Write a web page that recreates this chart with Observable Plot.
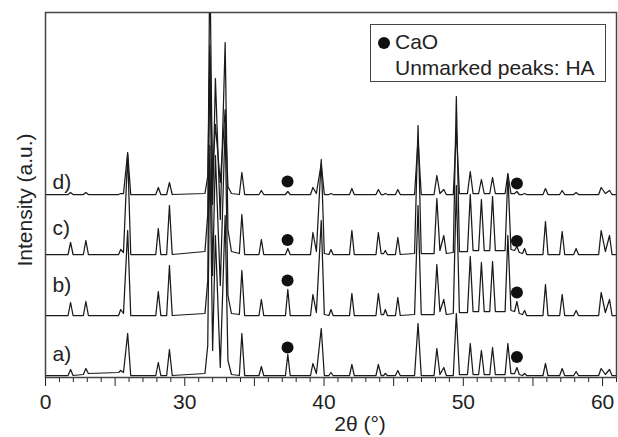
<!DOCTYPE html>
<html><head><meta charset="utf-8">
<script src="https://cdn.jsdelivr.net/npm/d3@7"></script>
<script src="https://cdn.jsdelivr.net/npm/@observablehq/plot@0.6"></script>
<style>
body{margin:0;background:#fff;font-family:"Liberation Sans",Arial,sans-serif;}
#wrap{position:relative;width:618px;height:437px;}
#legend{position:absolute;left:370px;top:24px;width:234px;height:56px;border:1.5px solid #444;background:#fff;color:#222;font-size:21px;line-height:26px;}
#legend .row{position:absolute;left:24px;white-space:nowrap;}
#legend .dot{position:absolute;left:7px;top:12px;width:12px;height:12px;border-radius:50%;background:#111;}
</style>
</head><body><div id="wrap"></div>
<script>
// 2θ positions of the line vertices (degrees): peak feet, apexes and valleys
const twoTheta = [20.0,
 21.62,21.8,21.98, 22.72,22.9,23.08,
 25.25,25.4,25.6,25.9,26.12,
 27.92,28.1,28.28, 28.7,28.9,29.1,
 31.45,31.65,31.8,32.0,32.2,32.55,32.9,33.1,33.35,
 33.92,34.1,34.3, 35.33,35.5,35.67, 37.23,37.4,37.57,
 39.03,39.2,39.45,39.8,40.02, 40.35,40.5,40.65,
 41.83,42.0,42.17, 43.73,43.9,44.1, 44.28,44.4,44.55, 45.13,45.3,45.47,
 46.5,46.75,46.98, 47.9,48.1,48.32,48.6,48.78,
 49.28,49.5,49.72, 50.3,50.5,50.7, 51.1,51.3,51.5, 51.9,52.1,52.3, 53.0,53.2,53.42,
 53.68,53.85,54.02, 54.25,54.4,54.55,
 55.72,55.9,56.08, 56.92,57.1,57.28, 57.93,58.1,58.27,
 59.72,59.9,60.2,60.5,60.68, 61.0];
// intensities above each pattern's own baseline (a.u.)
const traceA = [0, 0,6,0, 1,7,2, 3,5,3,42,0, 0,13,0, 0,26,0,
 2,30,230,25,140,8,160,15,1, 0,42,0, 0,9,0, 0,21,0,
 0,12,2,47,0, 0,3,0, 0,11,0, 0,11,0, 0,2,0, 0,5,0,
 0,52,0, 0,27,1,8,0, 0,62,1, 1,32,1, 1,25,1, 1,28,1, 1,32,2,
 2,8,1, 0,2,0, 0,12,0, 0,7,0, 0,4,0, 0,7,1,6,0, 0];
const traceB = [0, 0,13,0, 0,14,0, 0,6,2,85,0, 0,24,0, 0,50,0,
 2,35,270,40,160,30,190,20,2, 1,45,0, 0,16,0, 0,26,0,
 0,21,3,95,1, 0,6,0, 0,22,0, 0,22,1, 1,6,0, 0,18,0,
 1,110,1, 1,51,4,16,1, 2,130,3, 3,59,4, 4,53,4, 4,54,4, 4,80,5,
 4,14,2, 1,5,0, 0,31,0, 0,21,0, 0,5,0, 0,23,3,16,0, 0];
const traceC = [0, 0,12,0, 0,14,0, 0,5,2,100,0, 0,26,0, 0,49,0,
 3,40,300,50,176,35,212,25,3, 1,40,0, 0,15,0, 0,6,0,
 0,22,3,95,1, 0,5,0, 0,24,0, 0,22,1, 1,4,0, 0,17,0,
 1,129,1, 1,56,4,19,1, 2,158,3, 3,60,4, 4,55,4, 4,58,4, 4,80,5,
 4,8,2, 1,6,0, 0,33,0, 0,23,0, 0,6,0, 0,24,3,19,0, 0];
const traceD = [0, 0,2,0, 0,2,0, 0,1,1,42,0, 0,7,0, 0,12,0,
 1,18,140,20,70,12,85,8,1, 0,22,0, 0,4,0, 0,3,0,
 0,7,1,31,0, 0,1,0, 0,6,0, 0,5,0, 0,1,0, 0,5,0,
 0,55,0, 0,19,1,5,0, 0,65,1, 1,23,1, 1,15,1, 1,17,1, 1,21,1,
 1,3,0, 0,1,0, 0,6,0, 0,4,0, 0,2,0, 0,7,1,4,0, 0];
const traceNames = ["a)", "b)", "c)", "d)"];
const traceOffsets = [2, 62, 123, 183];
const labelLevels = [23, 92, 149, 195];
// CaO markers: positions and heights above each baseline
const caoTheta = [37.38, 53.85];
const caoHeights = [[28, 18.5], [35, 23], [14.5, 13.5], [13, 11]];
const tickValues = [20, 30, 40, 50, 60];
const tickLabels = ["0", "30", "40", "50", "60"];
const minorTicks = [21,22,23,24,26,27,28,29,31,32,33,34,36,37,38,39,41,42,43,44,46,47,48,49,51,52,53,54,56,57,58,59,61];
const midTicks = [25, 35, 45, 55];

const traces = [traceA, traceB, traceC, traceD];
const lineData = traces.flatMap((vals, i) => vals.map((v, j) => ({trace: traceNames[i], x: twoTheta[j], y: v + traceOffsets[i]})));
const dotData = caoHeights.flatMap((hs, i) => hs.map((h, j) => ({x: caoTheta[j], y: h + traceOffsets[i]})));
const labelData = traceNames.map((n, i) => ({name: n, y: labelLevels[i]}));

const font = "'Liberation Sans', Arial, sans-serif";
const chart = Plot.plot({
  width: 618, height: 437,
  marginLeft: 45, marginRight: 2, marginTop: 12, marginBottom: 60,
  style: {fontFamily: font, background: "#fff", color: "#222"},
  x: {domain: [20, 61]},
  y: {domain: [0, 365], axis: null},
  marks: [
    Plot.line(lineData, {x: "x", y: "y", z: "trace", stroke: "#1a1a1a", strokeWidth: 1.25, curve: "linear", clip: true}),
    Plot.dot(dotData, {x: "x", y: "y", r: 6, fill: "#111", stroke: "none"}),
    Plot.text(labelData, {x: 20.5, y: "y", text: "name", textAnchor: "start", fontSize: 21, fill: "#222"}),
    Plot.axisX({ticks: minorTicks, tickSize: 5, tickFormat: () => "", stroke: "#222", label: null}),
    Plot.axisX({ticks: midTicks, tickSize: 9, tickFormat: () => "", stroke: "#222", label: null}),
    Plot.axisX({ticks: tickValues, tickSize: 9, tickPadding: 8, tickFormat: (d, i) => tickLabels[i], fontSize: 21, stroke: "#222", label: null}),
    Plot.frame({stroke: "#444", strokeWidth: 1.5})
  ]
});
const svg = d3.select(chart);
svg.append("text").attr("x", 360).attr("y", 423).attr("text-anchor", "middle").attr("dominant-baseline", "central")
  .attr("font-size", 21).attr("fill", "#222").text("2θ (°)");
svg.append("text").attr("transform", "translate(24,200) rotate(-90)").attr("text-anchor", "middle").attr("dominant-baseline", "central")
  .attr("font-size", 21).attr("fill", "#222").text("Intensity (a.u.)");
const wrap = document.getElementById("wrap");
wrap.appendChild(chart);
const legend = document.createElement("div");
legend.id = "legend";
legend.innerHTML = '<span class="dot"></span><div class="row" style="top:4px">CaO</div><div class="row" style="top:30px">Unmarked peaks: HA</div>';
wrap.appendChild(legend);
</script>
</body></html>
